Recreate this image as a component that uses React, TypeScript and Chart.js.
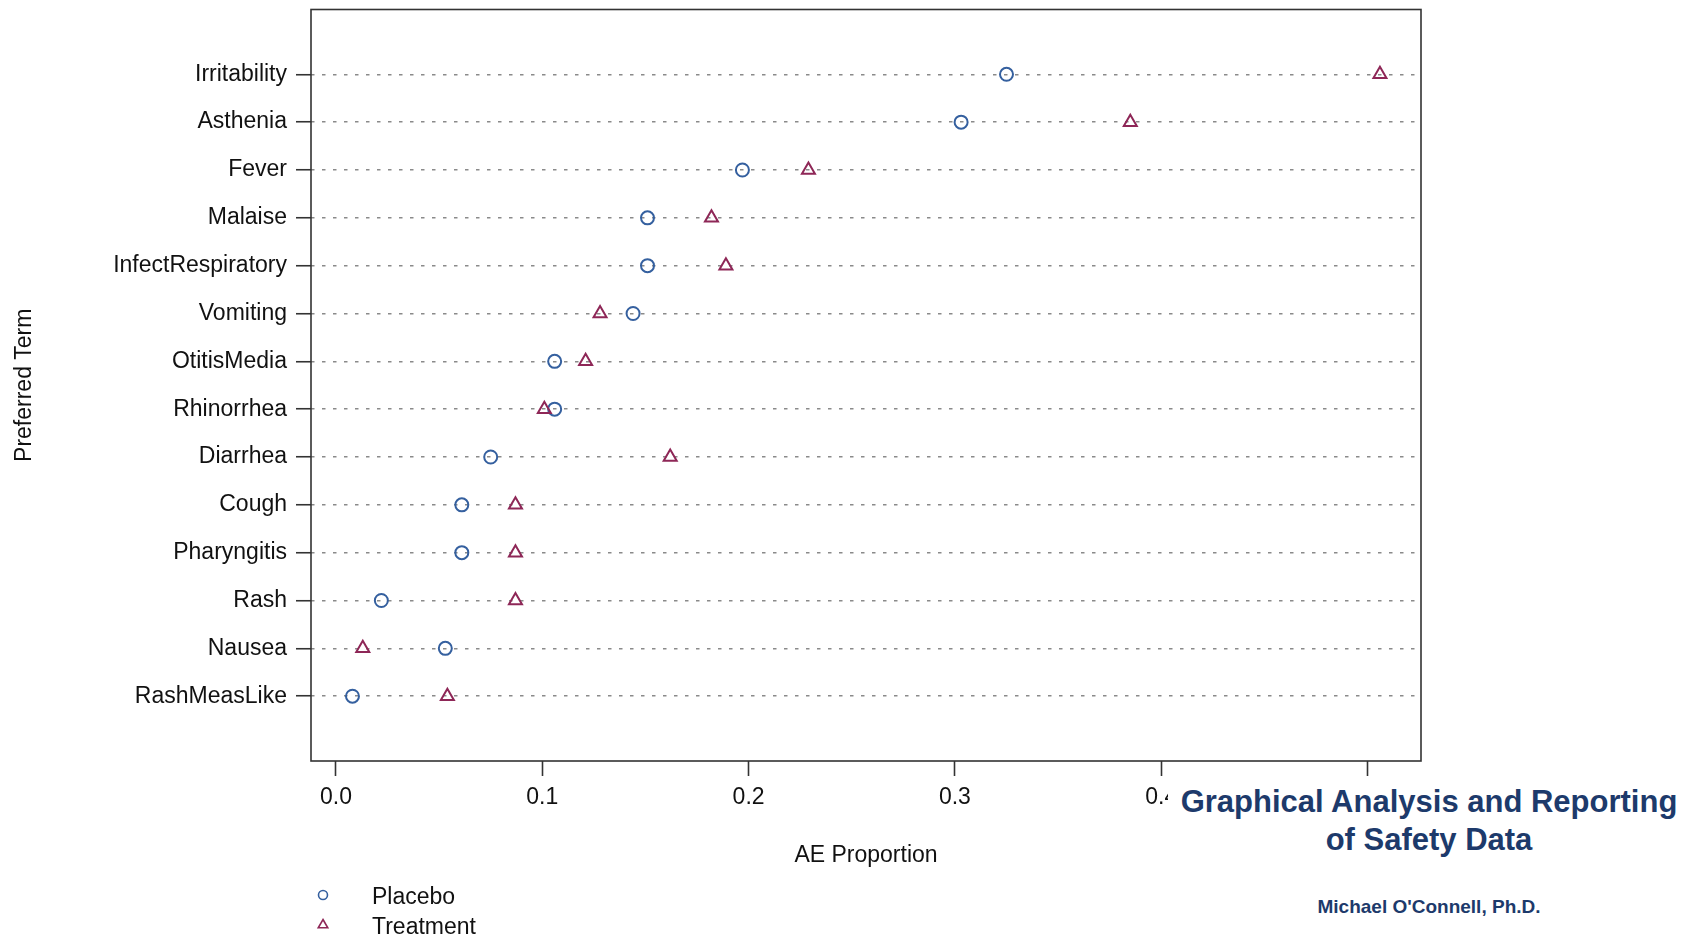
import React, { useEffect, useRef } from "react";
import { Chart, registerables } from "chart.js";

Chart.register(...registerables);

// Preferred terms, listed top to bottom
const terms = [
  "Irritability",
  "Asthenia",
  "Fever",
  "Malaise",
  "InfectRespiratory",
  "Vomiting",
  "OtitisMedia",
  "Rhinorrhea",
  "Diarrhea",
  "Cough",
  "Pharyngitis",
  "Rash",
  "Nausea",
  "RashMeasLike",
];

// AE proportion per term
const placebo = [0.325, 0.303, 0.197, 0.151, 0.151, 0.144, 0.106, 0.106, 0.075, 0.061, 0.061, 0.022, 0.053, 0.008];
const treatment = [0.506, 0.385, 0.229, 0.182, 0.189, 0.128, 0.121, 0.101, 0.162, 0.087, 0.087, 0.087, 0.013, 0.054];

const xTickValues = [0, 0.1, 0.2, 0.3, 0.4, 0.5];
const xTickLabels = ["0.0", "0.1", "0.2", "0.3", "0.4", "0.5"];

const seriesNames = ["Placebo", "Treatment"];
const placeboColor = "#35609f";
const treatmentColor = "#8e2757";
const FONT = "'Liberation Sans', Arial, Helvetica, sans-serif";

const toPoints = (vals: number[]) =>
  vals.map((v, i) => ({ x: v, y: terms.length - 1 - i }));

// Panel frame and key below the plot
const framePlugin = {
  id: "panelFrame",
  afterDraw(chart: any) {
    const { ctx, chartArea } = chart;
    ctx.save();
    ctx.strokeStyle = "#333";
    ctx.lineWidth = 1.6;
    ctx.strokeRect(chartArea.left, chartArea.top, chartArea.right - chartArea.left, chartArea.bottom - chartArea.top);

    // key
    ctx.lineWidth = 1.6;
    ctx.strokeStyle = placeboColor;
    ctx.beginPath();
    ctx.arc(323, 895, 4.5, 0, Math.PI * 2);
    ctx.stroke();
    ctx.strokeStyle = treatmentColor;
    const r = 5.5;
    const cx = 323;
    const cy = 925;
    ctx.beginPath();
    ctx.moveTo(cx, cy - r);
    ctx.lineTo(cx + r * Math.sin((2 * Math.PI) / 3), cy - r * Math.cos((2 * Math.PI) / 3));
    ctx.lineTo(cx + r * Math.sin((4 * Math.PI) / 3), cy - r * Math.cos((4 * Math.PI) / 3));
    ctx.closePath();
    ctx.stroke();

    ctx.fillStyle = "#111";
    ctx.font = `23px ${FONT}`;
    ctx.textAlign = "left";
    ctx.textBaseline = "middle";
    ctx.fillText(seriesNames[0], 372, 898);
    ctx.fillText(seriesNames[1], 372, 928);
    ctx.restore();
  },
};

export default function App() {
  const canvasRef = useRef<HTMLCanvasElement | null>(null);

  useEffect(() => {
    if (!canvasRef.current) return;
    Chart.defaults.font.family = FONT;
    const chart = new Chart(canvasRef.current, {
      type: "scatter",
      data: {
        datasets: [
          {
            label: seriesNames[1],
            data: toPoints(treatment),
            pointStyle: "triangle",
            pointRadius: 7.5,
            pointBorderWidth: 2,
            borderColor: treatmentColor,
            backgroundColor: "rgba(0,0,0,0)",
            pointBackgroundColor: "rgba(0,0,0,0)",
          },
          {
            label: seriesNames[0],
            data: toPoints(placebo),
            pointStyle: "circle",
            pointRadius: 6.5,
            pointBorderWidth: 2,
            borderColor: placeboColor,
            backgroundColor: "rgba(0,0,0,0)",
            pointBackgroundColor: "rgba(0,0,0,0)",
          },
        ],
      },
      options: {
        animation: false,
        responsive: false,
        events: [],
        layout: { padding: { left: 0, top: 9, right: 277, bottom: 0 } },
        plugins: {
          legend: { display: false },
          tooltip: { enabled: false },
        },
        scales: {
          x: {
            type: "linear",
            min: -0.0121,
            max: 0.5259,
            afterBuildTicks: (scale: any) => {
              scale.ticks = xTickValues.map((v) => ({ value: v }));
            },
            afterFit: (scale: any) => {
              scale.height = 178;
              scale.paddingLeft = 0;
              scale.paddingRight = 0;
            },
            grid: {
              drawOnChartArea: false,
              drawTicks: true,
              tickLength: 15,
              tickColor: "#333",
              tickWidth: 1.6,
            },
            border: { display: false },
            ticks: {
              autoSkip: false,
              maxRotation: 0,
              padding: 8,
              color: "#111",
              font: { size: 23, family: FONT },
              callback: (_v: any, i: number) => xTickLabels[i],
            },
            title: {
              display: true,
              text: "AE Proportion",
              color: "#111",
              font: { size: 23, family: FONT },
              padding: { top: 0, bottom: 70 },
            },
          },
          y: {
            type: "linear",
            min: -1.355,
            max: terms.length - 1 + 1.355,
            afterBuildTicks: (scale: any) => {
              scale.ticks = terms.map((_, i) => ({ value: i }));
            },
            afterFit: (scale: any) => {
              scale.width = 311;
              scale.paddingTop = 0;
              scale.paddingBottom = 0;
            },
            grid: {
              drawOnChartArea: true,
              color: "#8a8a8a",
              lineWidth: 1.5,
              borderDash: [3.5, 7.5],
              drawTicks: true,
              tickLength: 15,
              tickColor: "#333",
              tickWidth: 1.6,
            } as any,
            border: { display: false, dash: [3.5, 7.5] },
            ticks: {
              autoSkip: false,
              padding: 9,
              color: "#111",
              font: { size: 23, family: FONT },
              callback: (v: any) => terms[terms.length - 1 - Number(v)],
            },
            title: {
              display: true,
              text: "Preferred Term",
              color: "#111",
              font: { size: 23, family: FONT },
              padding: { top: 11, bottom: 0 },
            },
          },
        },
      },
      plugins: [framePlugin],
    });
    return () => chart.destroy();
  }, []);

  return (
    <div style={{ position: "fixed", left: 0, top: 0, width: 1698, height: 939, background: "#fff" }}>
      <canvas ref={canvasRef} width={1698} height={939} style={{ display: "block" }} />
      <div
        style={{
          position: "absolute",
          left: 1168,
          top: 779,
          width: 522,
          height: 150,
          background: "#fff",
          color: "#1d3a6b",
          fontFamily: FONT,
          fontWeight: "bold",
          textAlign: "center",
        }}
      >
        <div style={{ fontSize: 31, lineHeight: "38px", marginTop: 4 }}>
          Graphical Analysis and Reporting
          <br />
          of Safety Data
        </div>
        <div style={{ fontSize: 19, lineHeight: "24px", marginTop: 36 }}>Michael O'Connell, Ph.D.</div>
      </div>
    </div>
  );
}
